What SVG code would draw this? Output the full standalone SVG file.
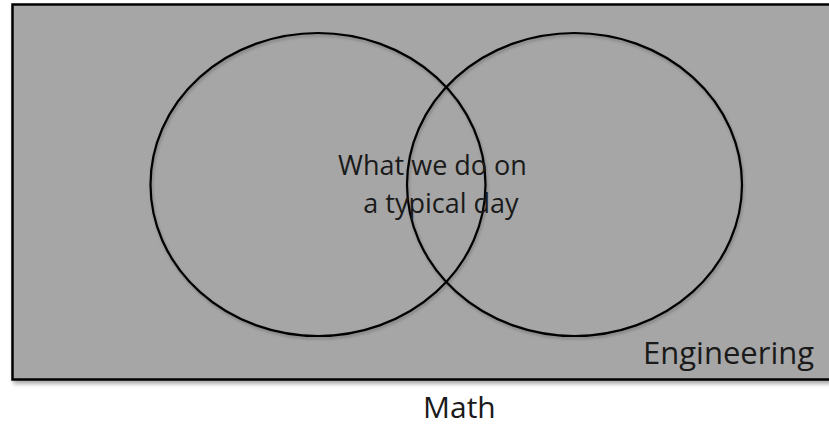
<svg xmlns="http://www.w3.org/2000/svg" width="829" height="426" viewBox="0 0 829 426">
  <style>
    .lbl { font-family: "Open Sans", "Noto Sans", "Liberation Sans", sans-serif; fill: #1a1a1a; }
    .ring { fill: none; stroke: #000; stroke-width: 2.2; }
  </style>
  <defs>
    <filter id="sh" x="-5%" y="-5%" width="110%" height="115%">
      <feDropShadow dx="2" dy="3" stdDeviation="2" flood-color="#000" flood-opacity="0.35"/>
    </filter>
    <filter id="rs" x="-5%" y="-5%" width="110%" height="110%">
      <feDropShadow dx="1" dy="2" stdDeviation="1.5" flood-color="#000" flood-opacity="0.25"/>
    </filter>
  </defs>
  <rect width="829" height="426" fill="#ffffff"/>
  <g id="engineering">
    <rect x="12.5" y="4.5" width="830" height="375" fill="#a6a6a6" stroke="#000" stroke-width="2.5" filter="url(#sh)"/>
    <text class="lbl" x="643" y="364" font-size="31">Engineering</text>
  </g>
  <g id="circle-left">
    <ellipse class="ring" cx="318" cy="184.5" rx="167.5" ry="151.5" filter="url(#rs)"/>
  </g>
  <g id="circle-right">
    <ellipse class="ring" cx="574.5" cy="184.5" rx="167.5" ry="151.5" filter="url(#rs)"/>
  </g>
  <g id="overlap">
    <text class="lbl" font-size="27" text-anchor="middle">
      <tspan x="436" y="175">What we do on</tspan>
      <tspan x="441" y="213">a typical day</tspan>
    </text>
  </g>
  <g id="math">
    <text class="lbl" x="423" y="418" font-size="30">Math</text>
  </g>
  <g id="connectors"/>
</svg>
